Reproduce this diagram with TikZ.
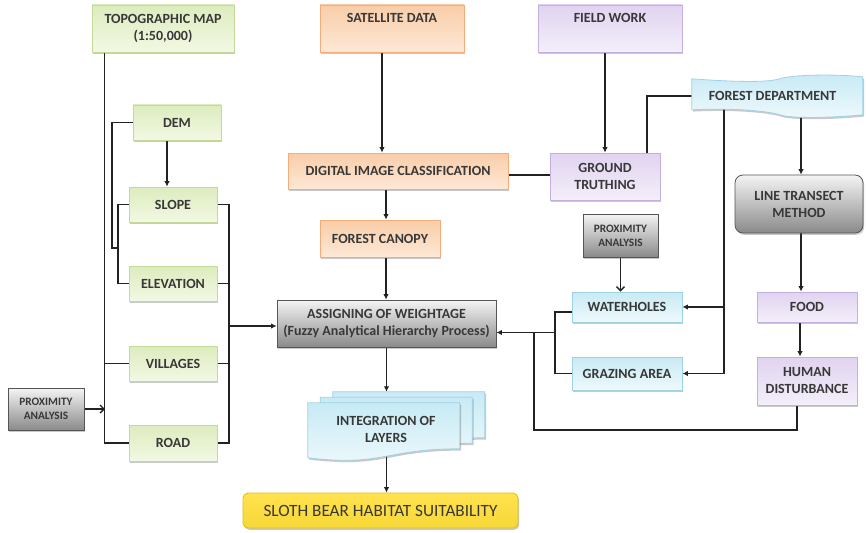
\documentclass[tikz,border=0pt]{standalone}
\usepackage{fontspec}
\setmainfont{Carlito}
\usetikzlibrary{arrows.meta,shadows,calc,backgrounds}

\definecolor{ink}{HTML}{383838}
\definecolor{wire}{HTML}{222222}
\definecolor{grnD}{HTML}{C3DA98}
\definecolor{grnT}{HTML}{DDECBE}
\definecolor{grnB}{HTML}{F2F8E3}
\definecolor{orgD}{HTML}{F3AC7C}
\definecolor{orgT}{HTML}{F9CDA8}
\definecolor{orgB}{HTML}{FDE8D6}
\definecolor{purD}{HTML}{C4B0E0}
\definecolor{purT}{HTML}{E0D3F0}
\definecolor{purB}{HTML}{F4EFFA}
\definecolor{cyaD}{HTML}{9ED3E3}
\definecolor{cyaT}{HTML}{C8EAF5}
\definecolor{cyaB}{HTML}{EEF9FC}
\definecolor{gryD}{HTML}{555555}
\definecolor{gryT}{HTML}{F4F4F4}
\definecolor{gryB}{HTML}{8A8A8A}
\definecolor{ylwD}{HTML}{E3BF10}
\definecolor{ylwT}{HTML}{FFE24F}
\definecolor{ylwM}{HTML}{FFF1A0}
\definecolor{ylwB}{HTML}{F7D836}

\tikzset{
  softshadow/.style={drop shadow={shadow xshift=1.2pt, shadow yshift=-1.8pt, opacity=0.3, fill=black!70}},
  box/.style={rectangle, draw, line width=0.8pt, inner sep=2pt, align=center,
    text=ink, font=\bfseries\fontsize{14}{17}\selectfont, softshadow},
  greenbox/.style={box, draw=grnD, top color=grnT, bottom color=grnB},
  orangebox/.style={box, draw=orgD, top color=orgT, bottom color=orgB},
  purplebox/.style={box, draw=purD, top color=purT, bottom color=purB},
  cyanbox/.style={box, draw=cyaD, top color=cyaT, bottom color=cyaB},
  graybox/.style={box, draw=gryD, top color=gryT, bottom color=gryB},
  smallgray/.style={graybox, font=\bfseries\fontsize{11.3}{14}\selectfont},
  yellowbox/.style={box, draw=ylwD, rounded corners=5pt, top color=ylwT, middle color=ylwM, bottom color=ylwB,
    font=\fontsize{17.2}{20}\selectfont},
  cyanfill/.style={draw=cyaD, line width=0.8pt, top color=cyaT, bottom color=cyaB, softshadow},
  boxtext/.style={text=ink, align=center, font=\bfseries\fontsize{14}{17}\selectfont},
  wire/.style={draw=wire, line width=1.4pt},
  arr/.style={wire, -{Latex[length=5.5pt,width=5.5pt]}},
  openarr/.style={wire, -{Straight Barb[length=4pt,width=8pt,line width=1.4pt]}},
}

\begin{document}
\begin{tikzpicture}[x=1pt,y=-1pt]
\useasboundingbox (0,0) rectangle (866,532);

% ---- left column: topographic inputs
\node[greenbox, minimum width=142pt, minimum height=47pt] (topo) at (163,28.5) {TOPOGRAPHIC MAP\\(1:50,000)};
\node[greenbox, minimum width=88pt, minimum height=35pt] (dem) at (177,122.5) {DEM};
\node[greenbox, minimum width=88pt, minimum height=35pt] (slope) at (173,204.5) {SLOPE};
\node[greenbox, minimum width=88pt, minimum height=35pt] (elev) at (173,283.5) {ELEVATION};
\node[greenbox, minimum width=88pt, minimum height=35pt] (vill) at (173,363.5) {VILLAGES};
\node[greenbox, minimum width=88pt, minimum height=36pt] (road) at (173,443) {ROAD};
\node[smallgray, minimum width=76pt, minimum height=42pt] (proxL) at (46,409) {PROXIMITY\\ANALYSIS};

% ---- centre column: remote sensing chain
\node[orangebox, minimum width=144pt, minimum height=47pt] (sat) at (392,28.5) {SATELLITE DATA\\\strut};
\node[orangebox, minimum width=220pt, minimum height=36pt] (dic) at (398,171) {DIGITAL IMAGE CLASSIFICATION};
\node[orangebox, minimum width=120pt, minimum height=37pt] (canopy) at (380,238.5) {FOREST CANOPY};
\node[graybox, minimum width=219pt, minimum height=47pt] (assign) at (386.5,323.5) {ASSIGNING OF WEIGHTAGE\\(Fuzzy Analytical Hierarchy Process)};
\node[minimum width=152pt, minimum height=52pt, inner sep=0pt] (integ) at (384,429) {};
\node[yellowbox, minimum width=275pt, minimum height=35pt] (sloth) at (380.5,510.5) {SLOTH BEAR HABITAT SUITABILITY};

% ---- right columns: field data
\node[purplebox, minimum width=144pt, minimum height=47pt] (field) at (610,28.5) {FIELD WORK\\\strut};
\node[purplebox, minimum width=110pt, minimum height=47pt] (ground) at (605,176.5) {GROUND\\TRUTHING};
\node[minimum width=171pt, minimum height=42pt, inner sep=0pt] (fdept) at (777.5,96) {};
\node[graybox, rounded corners=8pt, minimum width=128pt, minimum height=58pt] (lt) at (799,204) {LINE TRANSECT\\METHOD};
\node[smallgray, minimum width=75pt, minimum height=43pt] (proxR) at (620.5,235.5) {PROXIMITY\\ANALYSIS};
\node[cyanbox, minimum width=110pt, minimum height=30pt] (water) at (627,307) {WATERHOLES};
\node[cyanbox, minimum width=110pt, minimum height=33pt] (graze) at (627,373.5) {GRAZING AREA};
\node[purplebox, minimum width=100pt, minimum height=30pt] (food) at (807,307) {FOOD};
\node[purplebox, minimum width=100pt, minimum height=48pt] (human) at (807,381) {HUMAN\\DISTURBANCE};

% ---- forest department: punched-tape outline
\begin{scope}[shift={(fdept.north west)}]
  \path[cyanfill] (0,4) .. controls (40,7) and (75,8) .. (88,4)
    .. controls (100,0) and (140,-1) .. (171,2) -- (171,40)
    .. controls (140,43) and (100,44) .. (88,40)
    .. controls (75,36) and (40,33) .. (0,35) -- cycle;
\end{scope}
\node[boxtext] at ([xshift=-5pt]fdept.center) {FOREST DEPARTMENT};

% ---- integration of layers: stacked documents
\foreach \dx/\dy in {25/-11, 12.5/-5.5, 0/0} {
  \begin{scope}[shift={($(integ.north west)+(\dx,\dy)$)}]
    \path[cyanfill] (0,0) -- (152,0) -- (152,46)
      .. controls (76,46) and (76,64) .. (0,55) -- cycle;
  \end{scope}
}
\node[boxtext] at ([xshift=2pt]integ.center) {INTEGRATION OF\\LAYERS};

% ---- connectors
\coordinate (trunk) at (105,0);
\coordinate (jd) at (112,248);
\coordinate (sl) at (118,0);
\coordinate (rb) at (229,0);
\coordinate (fb) at (724,0);
\coordinate (wl) at (555,0);
\coordinate (hb) at (534,430);
\coordinate (ain) at ([yshift=-9pt]assign.east);

\begin{pgfonlayer}{background}
  % topographic map trunk
  \draw[wire] ([xshift=13pt]topo.south west) -- ([xshift=13pt]topo.south west |- road.west) -- (road.west);
  \draw[wire] (vill.west -| trunk) -- (vill.west);
  \draw[openarr] (proxL.east) -- (proxL.east -| trunk);
  % DEM derivatives
  \draw[wire] (dem.west) -| (jd) -- (jd -| sl);
  \draw[wire] (slope.west) -| (sl |- elev.west) -- (elev.west);
  \draw[arr] ([xshift=-10pt]dem.south) -- ([xshift=-10pt]dem.south |- slope.north);
  % right bus into the weighting step
  \draw[wire] (slope.east) -| (rb |- road.east) -- (road.east);
  \draw[wire] (elev.east) -- (elev.east -| rb);
  \draw[wire] (vill.east) -- (vill.east -| rb);
  \draw[arr] ([yshift=-2.5pt]assign.west -| rb) -- ([yshift=-2.5pt]assign.west);
  % centre chain
  \draw[arr] ([xshift=-10pt]sat.south) -- ([xshift=-10pt]sat.south |- dic.north);
  \draw[arr] (canopy.north |- dic.south) ++(6,0) -- ([xshift=6pt]canopy.north);
  \draw[arr] ([xshift=-0.5pt]assign.north |- canopy.south) -- ([xshift=-0.5pt]assign.north);
  \draw[arr] (assign.south) -- ([yshift=11pt]integ.north -| assign.south);
  \draw[arr] (integ.center -| assign.south) -- (sloth.north -| assign.south);
  % field work and ground truthing
  \draw[wire] (dic.east |- ground.west) ++(0,-1.5) -- ([yshift=1.5pt]ground.west);
  \draw[arr] (ground.north |- field.south) -- (ground.north);
  \draw[wire] (fdept.west) -| ([xshift=42pt]ground.north);
  % forest department feeds
  \draw[arr] (fb |- fdept.center) |- (graze.east);
  \draw[arr] (fb |- water.east) -- (water.east);
  \draw[arr] ([xshift=2pt]lt.north |- fdept.center) -- ([xshift=2pt]lt.north);
  \draw[arr] ([xshift=-6pt]food.north |- lt.south) -- ([xshift=-6pt]food.north);
  \draw[arr] ([xshift=-7pt]food.south) -- ([xshift=-7pt]human.north);
  \draw[openarr] (proxR.south) -- (proxR.south |- water.north);
  % habitat factors into the weighting step
  \draw[wire] ([yshift=-5pt]water.west) -| (wl |- graze.west) -- (graze.west);
  \draw[arr] (wl |- ain) -- (ain);
  \draw[wire] ([xshift=-10pt]human.south) |- (hb) -- (hb |- ain);
\end{pgfonlayer}
\end{tikzpicture}
\end{document}
